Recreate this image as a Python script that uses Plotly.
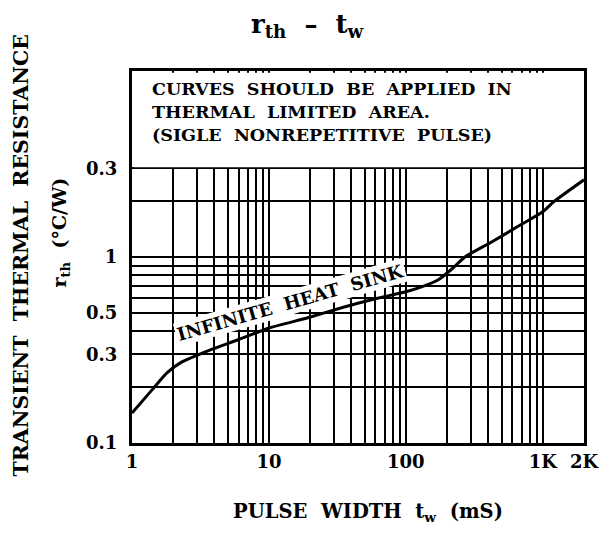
import numpy as np
import plotly.graph_objects as go

# ---- data ----
tw = [1, 1.4, 1.8, 2.3, 3.7, 5.9, 10, 19, 36, 62, 100, 130, 175, 220, 270, 420, 690, 1000, 1200, 2000]
rth = [0.145, 0.193, 0.238, 0.272, 0.316, 0.358, 0.415, 0.47, 0.54, 0.60, 0.65, 0.69, 0.76, 0.87, 1.0, 1.2, 1.49, 1.75, 1.98, 2.6]

x_tick_vals = [1, 10, 100, 1000, 2000]
x_tick_text = ["1", "10", "100", "1K", "2K"]
y_tick_vals = [0.1, 0.3, 0.5, 1, 3]
y_tick_text = ["0.1", "0.3", "0.5", "1", "0.3"]

x_grid = [m * 10 ** d for d in range(0, 4) for m in range(1, 10) if m * 10 ** d <= 2000]
y_grid = [m * 10 ** d for d in (-1, 0) for m in range(1, 10) if m * 10 ** d <= 3]

FONT = "DejaVu Serif"
NB = "\u00a0"

def sp(s):
    return s.replace(" ", NB * 2)

def f(size):
    return dict(family=FONT, size=size, color="black", weight="bold")

fig = go.Figure()
fig.add_trace(go.Scatter(x=tw, y=rth, mode="lines",
                         line=dict(color="black", width=3, shape="spline", smoothing=0.6),
                         hoverinfo="skip", showlegend=False))

fig.update_xaxes(type="log", range=[0, np.log10(2000)],
                 tickvals=x_tick_vals, ticktext=x_tick_text, ticks="",
                 showgrid=True, gridcolor="black", gridwidth=1.5,
                 minor=dict(tickvals=x_grid, showgrid=True, gridcolor="black", gridwidth=1.5, ticks=""),
                 showline=True, linecolor="black", linewidth=3, mirror=True,
                 tickfont=f(18), zeroline=False)
fig.update_yaxes(type="log", range=[-1, 1],
                 tickvals=y_tick_vals, ticktext=y_tick_text, ticks="",
                 showgrid=True, gridcolor="black", gridwidth=1.5,
                 minor=dict(tickvals=y_grid, showgrid=True, gridcolor="black", gridwidth=1.5, ticks=""),
                 showline=True, linecolor="black", linewidth=3, mirror=True,
                 tickfont=f(18), ticklabelstandoff=8, zeroline=False)

# white region at the top of the plot holding the note
y3 = (np.log10(3) + 1) / 2
fig.add_shape(type="rect", xref="paper", yref="paper", x0=0.004, x1=0.996,
              y0=y3 + 0.003, y1=0.995, layer="above",
              fillcolor="white", line=dict(width=0))

note = "<br>".join([sp("CURVES SHOULD BE APPLIED IN"),
                    sp("THERMAL LIMITED AREA."),
                    sp("(SIGLE NONREPETITIVE PULSE)")])
fig.add_annotation(text=note, xref="paper", yref="paper", x=0.04, y=0.985,
                   xanchor="left", yanchor="top", align="left", showarrow=False,
                   font=f(17.5))

fig.add_annotation(text=sp("INFINITE HEAT SINK"), xref="paper", yref="paper",
                   x=0.35, y=0.378, textangle=-16, showarrow=False,
                   bgcolor="white", borderpad=1, font=f(18))

# titles
fig.add_annotation(text="r<sub>th</sub>" + NB * 2 + "–" + NB * 2 + "t<sub>w</sub>",
                   xref="paper", yref="paper", x=(312 - 132) / 462, y=1 + (71 - 25) / 372,
                   xanchor="center", yanchor="middle", showarrow=False,
                   font=f(26))
fig.add_annotation(text=sp("PULSE WIDTH ") + "t<sub>w</sub>" + NB * 2 + "(mS)",
                   xref="paper", yref="paper", x=(373 - 132) / 462, y=(443 - 512) / 372,
                   xanchor="center", yanchor="middle", showarrow=False,
                   font=f(19.5))
fig.add_annotation(text=sp("TRANSIENT THERMAL RESISTANCE"),
                   xref="paper", yref="paper", x=(19 - 132) / 462, y=(443 - 255) / 372,
                   xanchor="center", yanchor="middle", textangle=-90, showarrow=False,
                   font=f(20.5))
fig.add_annotation(text="r<sub>th</sub>" + NB * 2 + "(°C/W)",
                   xref="paper", yref="paper", x=(59 - 132) / 462, y=(443 - 233) / 372,
                   xanchor="center", yanchor="middle", textangle=-90, showarrow=False,
                   font=f(19))

fig.update_layout(width=611, height=535,
                  margin=dict(l=132, r=17, t=71, b=92),
                  paper_bgcolor="white", plot_bgcolor="white",
                  showlegend=False)

fig.write_html("out.html")
